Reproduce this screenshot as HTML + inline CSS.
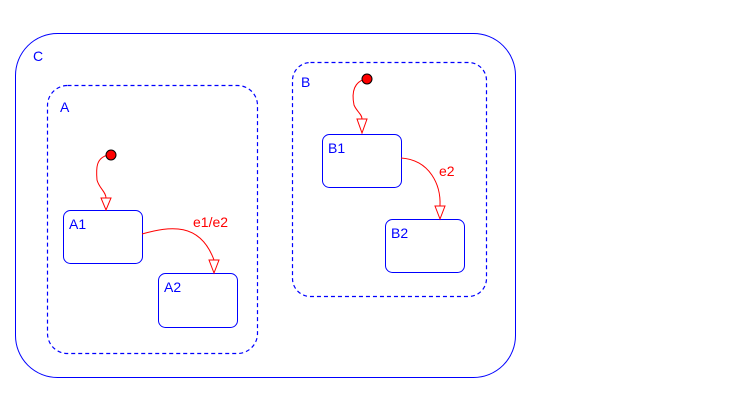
<!DOCTYPE html>
<html><head><style>
html,body{margin:0;padding:0;background:#fff;}
svg{display:block;font-family:"Liberation Sans",sans-serif;}
</style></head><body>
<svg width="750" height="404" viewBox="0 0 750 404" xmlns="http://www.w3.org/2000/svg">
<g fill="none" stroke="#0000ff" stroke-width="1">
<rect x="15.5" y="33.5" width="500" height="344" rx="42" ry="42"/>
<rect x="47.5" y="85.5" width="210" height="268" rx="20" ry="20" stroke-dasharray="4,3" stroke-width="1.2"/>
<rect x="292.5" y="62.5" width="194" height="234" rx="18" ry="18" stroke-dasharray="4,3" stroke-width="1.2"/>
<rect x="63.5" y="210.5" width="79" height="53" rx="7"/>
<rect x="158.5" y="273.5" width="79" height="54" rx="7"/>
<rect x="322.5" y="134.5" width="79" height="53" rx="7"/>
<rect x="385.5" y="219.5" width="79" height="53" rx="7"/>
</g>
<g fill="none" stroke="#ff0000" stroke-width="1">
<path d="M108,155 C96,158 96,168 97,180 C99,188 106,192 106,198"/>
<path d="M101,198 L111,198 L106,210 Z"/>
<path d="M142,234 C170,226 200,222 214,260"/>
<path d="M209,260 L219,260 L214,273 Z"/>
<path d="M365,79 C352,83 352,95 354,105 C357,112 362,114 362,119"/>
<path d="M357,119 L367,119 L362,133 Z"/>
<path d="M401,158 C430,160 441,185 440,206"/>
<path d="M435,206 L445,206 L440,219 Z"/>
</g>
<circle cx="111" cy="155" r="5" fill="#ff0000" stroke="#000"/>
<circle cx="367" cy="79" r="5" fill="#ff0000" stroke="#000"/>
<g fill="#0000ff" font-size="14">
<text x="33" y="61">C</text>
<text x="60" y="112">A</text>
<text x="301" y="87">B</text>
<text x="69" y="229">A1</text>
<text x="164" y="292">A2</text>
<text x="328" y="153">B1</text>
<text x="391" y="238">B2</text>
</g>
<g fill="#ff0000" font-size="14">
<text x="193" y="227">e1/e2</text>
<text x="439" y="176">e2</text>
</g>
</svg>
</body></html>
